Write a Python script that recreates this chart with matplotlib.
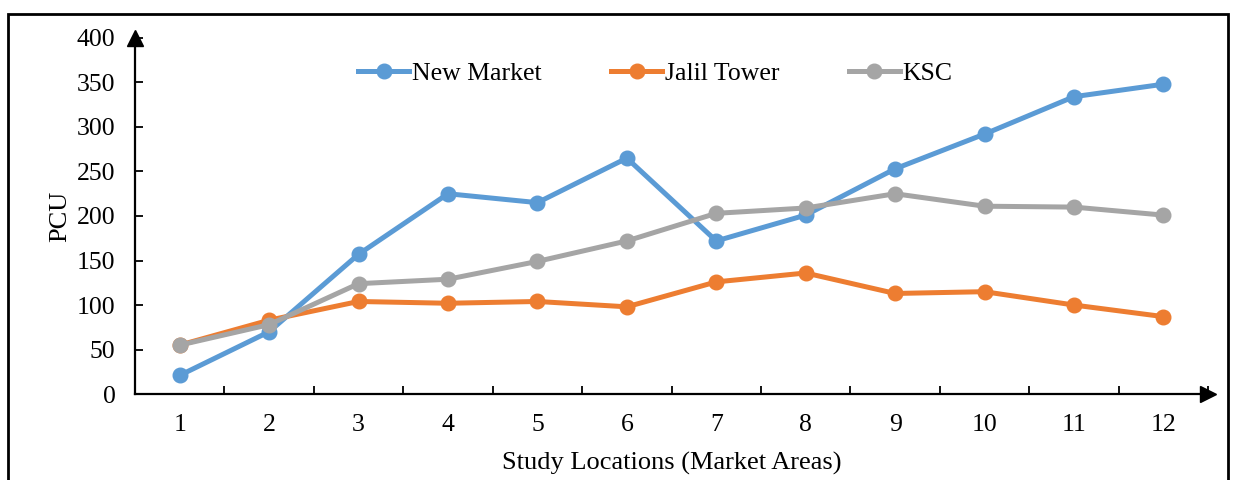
import matplotlib.pyplot as plt
from matplotlib.patches import Rectangle

plt.rcParams['font.family'] = ['Liberation Serif', 'DejaVu Serif']

locations = [1, 2, 3, 4, 5, 6, 7, 8, 9, 10, 11, 12]
new_market = [21, 70, 157, 225, 215, 265, 172, 201, 253, 292, 334, 348]
jalil_tower = [55, 83, 104, 102, 104, 98, 126, 136, 113, 115, 100, 87]
ksc = [55, 78, 124, 129, 149, 172, 203, 209, 225, 211, 210, 201]

fig = plt.figure(figsize=(12.34, 4.8), dpi=100)
ax = fig.add_axes([0.1094, 0.179, 0.8696, 0.742])

ax.plot(locations, new_market, color='#5B9BD5', lw=3.6, marker='o', ms=10.5, label='New Market')
ax.plot(locations, jalil_tower, color='#ED7D31', lw=3.6, marker='o', ms=10.5, label='Jalil Tower')
ax.plot(locations, ksc, color='#A5A5A5', lw=3.6, marker='o', ms=10.5, label='KSC')

ax.set_xlim(0.5, 12.5)
ax.set_ylim(0, 400)
ax.set_yticks(range(0, 401, 50))
ax.set_xticks(locations)
ax.set_xticks([i + 0.5 for i in range(1, 13)], minor=True)
ax.tick_params(axis='x', which='major', length=0, pad=14, labelsize=18.5)
ax.tick_params(axis='x', which='minor', direction='in', length=6, width=1.3)
ax.tick_params(axis='y', direction='in', length=6, width=1.3, labelsize=18.5, pad=14)

for s in ['top', 'right']:
    ax.spines[s].set_visible(False)
for s in ['left', 'bottom']:
    ax.spines[s].set_linewidth(1.6)

# arrows at the ends of the axes
ax.plot(0, 1, '^k', ms=12, transform=ax.transAxes, clip_on=False)
ax.plot(1, 0, '>k', ms=12, transform=ax.transAxes, clip_on=False)

ax.set_ylabel('PCU', fontsize=19, labelpad=4)
ax.set_xlabel('Study Locations (Market Areas)', fontsize=19, labelpad=12)

fig.legend(loc='center', bbox_to_anchor=(0.531, 0.846), ncol=3, frameon=False,
           fontsize=18.5, handlelength=2.0, handletextpad=0.1, columnspacing=2.7)

fig.patches.append(Rectangle((0.0065, -0.05), 0.9885, 1.021, transform=fig.transFigure,
                             fill=False, edgecolor='black', lw=2))

fig.savefig('out.png', dpi=100)
